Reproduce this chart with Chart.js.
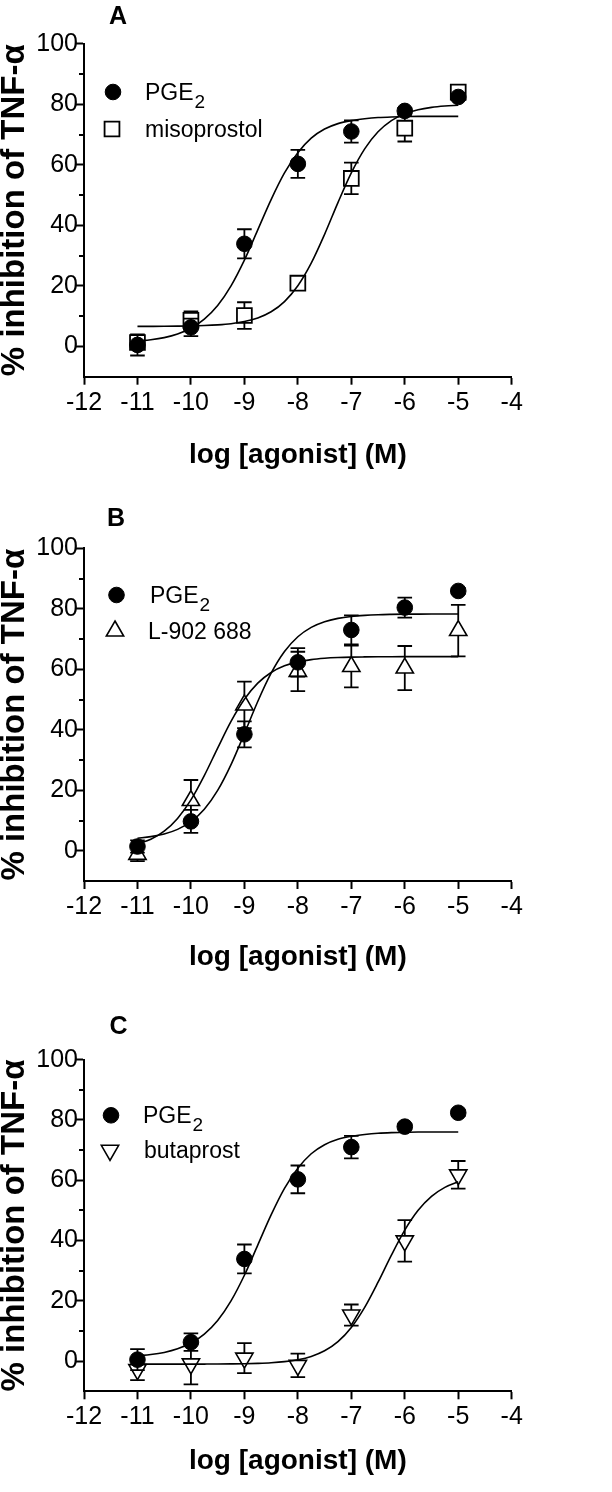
<!DOCTYPE html>
<html>
<head>
<meta charset="utf-8">
<script src="https://cdn.jsdelivr.net/npm/chart.js@4.4.1/dist/chart.umd.min.js"></script>
<style>
html,body{margin:0;padding:0;background:#fff;width:612px;height:1492px;overflow:hidden;}
canvas{position:absolute;left:0;}
</style>
</head>
<body>
<canvas id="cA" width="612" height="500" style="top:0px;width:612px;height:500px"></canvas>
<canvas id="cB" width="612" height="492" style="top:500px;width:612px;height:492px"></canvas>
<canvas id="cC" width="612" height="500" style="top:992px;width:612px;height:500px"></canvas>
<script>
// ---------------- DATA ----------------
const doses = [-11, -10, -9, -8, -7, -6, -5];

// Panel A / C : PGE2
const pge2Mean = [0.5, 6.3, 33.9, 60.3, 71.0, 77.8, 82.4];
const pge2Sem  = [3.5, 2.9, 4.8, 4.6, 3.7, 1.0, 1.0];
// Panel A : misoprostol
const misoMean = [1.3, 8.6, 10.2, 20.9, 55.5, 72.1, 84.0];
const misoSem  = [2.0, 3.0, 4.4, 1.0, 5.2, 4.4, 1.0];
// Panel B : PGE2
const pge2BMean = [1.4, 9.7, 38.5, 62.3, 73.0, 80.4, 85.9];
const pge2BSem  = [2.0, 3.8, 4.3, 4.7, 4.8, 3.3, 1.0];
// Panel B : L-902 688
const l902Mean = [-1.2, 16.6, 48.2, 59.3, 60.9, 60.4, 72.8];
const l902Sem  = [2.2, 6.8, 7.7, 6.5, 6.9, 7.3, 8.5];
// Panel C : butaprost
const butaMean = [-2.8, -0.9, 1.0, -1.4, 15.3, 39.9, 61.8];
const butaSem  = [3.5, 6.8, 5.0, 3.9, 3.5, 6.9, 4.6];

// fitted curves
const curveX = [-11, -10.75, -10.5, -10.25, -10, -9.75, -9.5, -9.25, -9, -8.75, -8.5, -8.25, -8,
                -7.75, -7.5, -7.25, -7, -6.75, -6.5, -6.25, -6, -5.75, -5.5, -5.25, -5];
const pge2Curve = [1.8, 2.2, 2.9, 4.1, 6.0, 9.0, 13.5, 20.0, 28.5, 38.5, 48.5, 57.3, 64.0,
                   68.8, 71.8, 73.6, 74.6, 75.2, 75.6, 75.8, 75.9, 76.0, 76.0, 76.0, 76.0];
const misoCurve = [6.62, 6.63, 6.65, 6.69, 6.76, 6.89, 7.12, 7.51, 8.21, 9.41, 11.45, 14.81, 20.03,
                   27.50, 37.02, 47.51, 57.33, 65.27, 70.91, 74.60, 76.86, 78.20, 78.98, 79.42, 79.67];
const pge2BCurve = [4.16, 4.67, 5.55, 7.07, 9.62, 13.73, 19.95, 28.48, 38.75, 49.36, 58.71, 65.86, 70.75,
                    73.86, 75.73, 76.83, 77.47, 77.83, 78.04, 78.15, 78.22, 78.25, 78.27, 78.28, 78.29];
const l902Curve = [2.20, 3.81, 6.48, 10.68, 16.81, 24.84, 33.94, 42.76, 50.08, 55.42, 58.95, 61.14, 62.44,
                   63.20, 63.63, 63.88, 64.02, 64.09, 64.14, 64.16, 64.18, 64.19, 64.19, 64.20, 64.20];
const butaCurve = [-1.0, -1.0, -1.0, -1.0, -0.98, -0.97, -0.95, -0.91, -0.85, -0.73, -0.53, -0.16, 0.48,
                   1.58, 3.44, 6.49, 11.19, 17.84, 26.18, 35.18, 43.47, 50.04, 54.67, 57.65, 59.48];

// axis ticks / labels
const xTickValues = [-12, -11, -10, -9, -8, -7, -6, -5, -4];
const yLabelValues = [0, 20, 40, 60, 80, 100];
const yMinorTicks = [10, 30, 50, 70, 90];
const xTitle = 'log [agonist] (M)';
const yTitle = '% inhibition of TNF-\u03b1';
const panelLetters = ['A', 'B', 'C'];
const pgeName = {main: 'PGE', sub: '2'};
const otherNames = ['misoprostol', 'L-902 688', 'butaprost'];

// ---------------- RENDERING ----------------
const FONT = "'Liberation Sans', Arial, Helvetica, sans-serif";
Chart.defaults.font.family = FONT;
Chart.defaults.color = '#000';

const toPts = (xs, ys) => xs.map((x, i) => ({x: x, y: ys[i]}));

const errorBarPlugin = {
  id: 'errorBars',
  beforeDatasetsDraw(chart) {
    const {ctx} = chart;
    const xs = chart.scales.x, ys = chart.scales.y;
    const cap = 7.3;
    ctx.save();
    ctx.strokeStyle = '#000';
    ctx.lineWidth = 1.8;
    chart.data.datasets.forEach(ds => {
      if (!ds.errors) return;
      ds.data.forEach((pt, i) => {
        const e = ds.errors[i];
        const px = xs.getPixelForValue(pt.x);
        const pc = ys.getPixelForValue(pt.y);
        const pTop = ys.getPixelForValue(pt.y + e);
        const pBot = ys.getPixelForValue(pt.y - e);
        const gu = ds.errGap[0], gd = ds.errGap[1];
        ctx.beginPath();
        if (pc - pTop > gu + 0.5) {
          ctx.moveTo(px, pc - gu); ctx.lineTo(px, pTop);
          ctx.moveTo(px - cap, pTop); ctx.lineTo(px + cap, pTop);
        }
        if (pBot - pc > gd + 0.5) {
          ctx.moveTo(px, pc + gd); ctx.lineTo(px, pBot);
          ctx.moveTo(px - cap, pBot); ctx.lineTo(px + cap, pBot);
        }
        ctx.stroke();
      });
    });
    ctx.restore();
  }
};

function drawMarker(ctx, style, x, y) {
  ctx.save();
  ctx.strokeStyle = '#000';
  ctx.fillStyle = style.fill;
  ctx.lineWidth = style.bw;
  Chart.helpers.drawPoint(ctx, {pointStyle: style.pointStyle, radius: style.radius, rotation: style.rotation, borderWidth: style.bw}, x, y);
  ctx.restore();
}

const decorPlugin = {
  id: 'decor',
  afterDraw(chart, args, o) {
    const {ctx, chartArea} = chart;
    const ys = chart.scales.y;
    ctx.save();
    // minor y ticks
    ctx.strokeStyle = '#000';
    ctx.lineWidth = 2;
    yMinorTicks.forEach(v => {
      const py = Math.round(ys.getPixelForValue(v));
      ctx.beginPath();
      ctx.moveTo(chartArea.left - 5, py);
      ctx.lineTo(chartArea.left, py);
      ctx.stroke();
    });
    // panel letter
    ctx.fillStyle = '#000';
    ctx.font = 'bold 25px ' + FONT;
    ctx.textAlign = 'center';
    ctx.textBaseline = 'middle';
    ctx.fillText(o.letter, o.letterX, o.letterY);
    // legend
    ctx.textAlign = 'left';
    ctx.textBaseline = 'alphabetic';
    o.legend.forEach(item => {
      const my = chartArea.top + item.dy;
      drawMarker(ctx, item.marker, item.mx, my);
      ctx.font = '23px ' + FONT;
      ctx.fillStyle = '#000';
      ctx.fillText(item.text, item.tx, my + 8);
      if (item.sub) {
        const w = ctx.measureText(item.text).width;
        ctx.font = '19px ' + FONT;
        ctx.fillText(item.sub, item.tx + w + 1, my + 16);
      }
    });
    ctx.restore();
  }
};

const circleStyle = {pointStyle: 'circle', radius: 7.8, fill: '#000', bw: 1};
const squareStyle = {pointStyle: 'rect', radius: 10.5, fill: 'rgba(0,0,0,0)', bw: 1.8, rotation: 0};
const triUpStyle = {pointStyle: 'triangle', radius: 10, fill: 'rgba(0,0,0,0)', bw: 1.6, rotation: 0};
const triDownStyle = {pointStyle: 'triangle', radius: 10, fill: 'rgba(0,0,0,0)', bw: 1.6, rotation: 180};

function pointDataset(label, mean, sem, st, gap) {
  return {
    label: label,
    data: toPts(doses, mean),
    errors: sem,
    errGap: gap,
    showLine: false,
    pointStyle: st.pointStyle,
    pointRadius: st.radius,
    pointHoverRadius: st.radius,
    pointRotation: st.rotation || 0,
    pointBackgroundColor: st.fill,
    pointBorderColor: '#000',
    pointBorderWidth: st.bw
  };
}
function curveDataset(label, ys) {
  return {
    label: label,
    data: toPts(curveX, ys),
    showLine: true,
    borderColor: '#000',
    borderWidth: 1.6,
    pointRadius: 0,
    pointHoverRadius: 0,
    fill: false,
    cubicInterpolationMode: 'monotone'
  };
}

function makePanel(id, P) {
  new Chart(document.getElementById(id), {
    type: 'scatter',
    data: {datasets: P.datasets},
    options: {
      responsive: false,
      animation: false,
      devicePixelRatio: 1,
      events: [],
      layout: {padding: {top: P.padTop, left: 0, right: 100.3, bottom: 0}},
      plugins: {
        legend: {display: false},
        tooltip: {enabled: false},
        decor: {letter: P.letter, letterX: P.letterX, letterY: P.letterY, legend: P.legend}
      },
      scales: {
        x: {
          type: 'linear', position: 'bottom', min: -12, max: -4,
          afterFit: s => { s.height = P.xScaleH; },
          afterBuildTicks: s => { s.ticks = xTickValues.map(v => ({value: v})); },
          border: {display: true, color: '#000', width: 2},
          grid: {drawOnChartArea: false, drawTicks: true, tickLength: 8, tickWidth: 2, tickColor: '#000'},
          ticks: {autoSkip: false, maxRotation: 0, padding: 3, font: {size: 25}, color: '#000', callback: v => String(v)},
          title: {display: true, text: xTitle, color: '#000', font: {size: 28, weight: 'bold'}, padding: {top: 0, bottom: P.xTitlePad}}
        },
        y: {
          type: 'linear', position: 'left', min: -10, max: 100,
          afterFit: s => { s.width = 84; },
          border: {display: true, color: '#000', width: 2},
          grid: {drawOnChartArea: false, drawTicks: true, tickLength: 8, tickWidth: 2,
                 tickColor: c => (c.tick && yLabelValues.includes(c.tick.value)) ? '#000' : 'rgba(0,0,0,0)'},
          ticks: {stepSize: 10, autoSkip: false, padding: -2, font: {size: 25}, color: '#000',
                  callback: v => yLabelValues.includes(v) ? String(v) : ''},
          title: {display: true, text: yTitle, color: '#000', font: {size: 33, weight: 'bold', lineHeight: 0.9}, padding: {top: 0, bottom: 0}}
        }
      }
    },
    plugins: [errorBarPlugin, decorPlugin]
  });
}

const gapCircle = [0, 0];
const gapSquare = [7.4, 7.4];
const gapTriUp = [10, 5];
const gapTriDown = [5, 10];

makePanel('cA', {
  padTop: 43.7, xScaleH: 123.3, xTitlePad: 28.2,
  letter: panelLetters[0], letterX: 118, letterY: 17,
  legend: [
    {marker: circleStyle, mx: 113, dy: 48.3, text: pgeName.main, sub: pgeName.sub, tx: 145},
    {marker: squareStyle, mx: 112, dy: 85.3, text: otherNames[0], tx: 145}
  ],
  datasets: [
    pointDataset('PGE2', pge2Mean, pge2Sem, circleStyle, gapCircle),
    pointDataset(otherNames[0], misoMean, misoSem, squareStyle, gapSquare),
    curveDataset('PGE2 fit', pge2Curve),
    curveDataset('misoprostol fit', misoCurve)
  ]
});

makePanel('cB', {
  padTop: 48.3, xScaleH: 111, xTitlePad: 17.7,
  letter: panelLetters[1], letterX: 116, letterY: 19,
  legend: [
    {marker: circleStyle, mx: 116.5, dy: 46.7, text: pgeName.main, sub: pgeName.sub, tx: 150},
    {marker: triUpStyle, mx: 115, dy: 82.7, text: otherNames[1], tx: 148}
  ],
  datasets: [
    pointDataset('PGE2', pge2BMean, pge2BSem, circleStyle, gapCircle),
    pointDataset(otherNames[1], l902Mean, l902Sem, triUpStyle, gapTriUp),
    curveDataset('PGE2 fit', pge2BCurve),
    curveDataset('L-902 688 fit', l902Curve)
  ]
});

makePanel('cC', {
  padTop: 67.7, xScaleH: 100.7, xTitlePad: 14.2,
  letter: panelLetters[2], letterX: 118.5, letterY: 35,
  legend: [
    {marker: circleStyle, mx: 111, dy: 55.6, text: pgeName.main, sub: pgeName.sub, tx: 143},
    {marker: triDownStyle, mx: 110, dy: 90.6, text: otherNames[2], tx: 144}
  ],
  datasets: [
    pointDataset('PGE2', pge2Mean, pge2Sem, circleStyle, gapCircle),
    pointDataset(otherNames[2], butaMean, butaSem, triDownStyle, gapTriDown),
    curveDataset('PGE2 fit', pge2Curve),
    curveDataset('butaprost fit', butaCurve)
  ]
});
</script>
</body>
</html>
